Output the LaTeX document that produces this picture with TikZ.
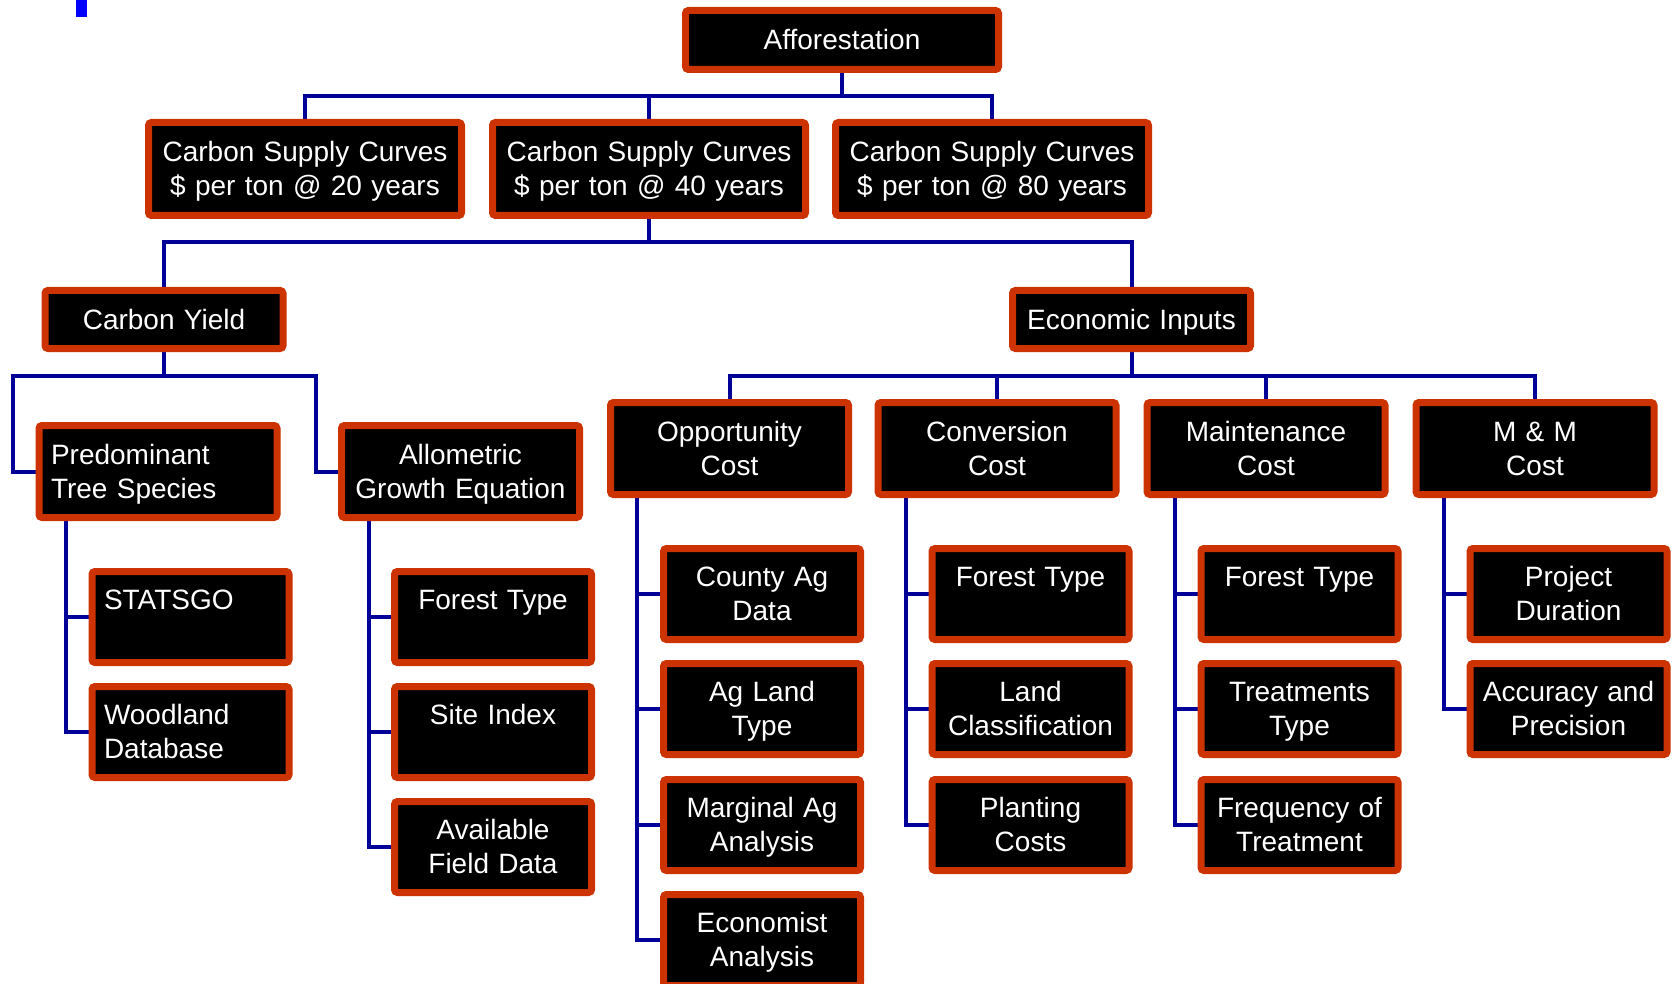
\documentclass[tikz,border=0pt]{standalone}
\usepackage{fontspec}
\setmainfont{Liberation Sans}
\usetikzlibrary{backgrounds}
\definecolor{brd}{RGB}{204,51,0}
\definecolor{navy}{RGB}{0,0,153}
\newcommand\mytopstrut{\rule{0pt}{29.8pt}}
\newcommand\mybotstrut{\rule[-10.2pt]{0pt}{10.2pt}}
\begin{document}
\begin{tikzpicture}[x=1pt,y=-1pt,
  box/.style={draw=brd, line width=7pt, fill=black, text=white, rounded corners=3pt,
    font=\fontsize{28}{34}\selectfont, align=center, inner ysep=0pt, inner xsep=12pt,
    execute at begin node=\mytopstrut, execute at end node=\mybotstrut},
  aftop/.style={box, text width=289pt, minimum height=59pt},
  top/.style={box, text width=289pt, minimum height=93pt},
  one/.style={box, text width=214pt, minimum height=58pt},
  mid/.style={box, text width=214pt, minimum height=92pt},
  midl/.style={mid, align=left},
  kid/.style={box, text width=173pt, minimum height=91pt},
  kidl/.style={kid, align=left},
  conn/.style={draw=navy, line width=4pt}]
\useasboundingbox (0,0) rectangle (1673,984);
\fill[blue] (76,0) rectangle (87,17);

\node[aftop] (aff) at (842,40) {Afforestation};
\node[top] (c20) at (305,169) {Carbon Supply Curves\\\$ per ton @ 20 years};
\node[top] (c40) at (649,169) {Carbon Supply Curves\\\$ per ton @ 40 years};
\node[top] (c80) at (992,169) {Carbon Supply Curves\\\$ per ton @ 80 years};
\node[one] (cy) at (164,319.5) {Carbon Yield};
\node[one] (ei) at (1131.5,319.5) {Economic Inputs};
\node[midl] (pts) at (158,471.5) {Predominant\\Tree Species};
\node[mid] (age) at (460.5,471.5) {Allometric\\Growth Equation};
\node[kidl] (statsgo) at (190.5,617) {STATSGO\\};
\node[kidl] (wood) at (190.5,732) {Woodland\\Database};
\node[kid] (ft1) at (493,617) {Forest Type\\};
\node[kid] (si) at (493,732) {Site Index\\};
\node[kid] (afd) at (493,847) {Available\\Field Data};
\node[mid] (opp) at (729.5,448.5) {Opportunity\\Cost};
\node[mid] (conv) at (997,448.5) {Conversion\\Cost};
\node[mid] (maint) at (1266,448.5) {Maintenance\\Cost};
\node[mid] (mm) at (1535,448.5) {M \& M\\Cost};
\node[kid] (cad) at (762,594) {County Ag\\Data};
\node[kid] (alt) at (762,709) {Ag Land\\Type};
\node[kid] (maa) at (762,825) {Marginal Ag\\Analysis};
\node[kid] (ea) at (762,940) {Economist\\Analysis};
\node[kid] (ft2) at (1030.5,594) {Forest Type\\};
\node[kid] (lc) at (1030.5,709) {Land\\Classification};
\node[kid] (pc) at (1030.5,825) {Planting\\Costs};
\node[kid] (ft3) at (1299.5,594) {Forest Type\\};
\node[kid] (tt) at (1299.5,709) {Treatments\\Type};
\node[kid] (fot) at (1299.5,825) {Frequency of\\Treatment};
\node[kid] (pd) at (1568.5,594) {Project\\Duration};
\node[kid] (aap) at (1568.5,709) {Accuracy and\\Precision};

\coordinate (b1) at (842,96);
\coordinate (b2) at (649,242);
\coordinate (b3l) at (13,376);
\coordinate (b3r) at (316,376);
\coordinate (b4) at (1131.5,376);
\coordinate (pv) at (66,500);
\coordinate (av) at (369,500);
\coordinate (ov) at (637,480);
\coordinate (cv) at (906,480);
\coordinate (mv) at (1175,480);
\coordinate (mmv) at (1444,480);

\begin{scope}[on background layer]
\fill[white] (0,0) rectangle (1673,984);
\draw[conn] (aff) -- (b1);
\draw[conn] (c20) |- (b1) -| (c80);
\draw[conn] (c40) -- (c40 |- b1);
\draw[conn] (c40) -- (b2);
\draw[conn] (cy) |- (b2) -| (ei);
\draw[conn] (cy) -- (cy |- b3l);
\draw[conn] (pts.west) -| (b3l) -- (b3r) |- (age.west);
\draw[conn] (ei) -- (ei |- b4);
\draw[conn] (opp) |- (b4) -| (mm);
\draw[conn] (conv) -- (conv |- b4);
\draw[conn] (maint) -- (maint |- b4);
\draw[conn] (pv) |- (wood);
\draw[conn] (pv |- statsgo) -- (statsgo);
\draw[conn] (av) |- (afd);
\draw[conn] (av |- ft1) -- (ft1);
\draw[conn] (av |- si) -- (si);
\draw[conn] (ov) |- (ea);
\draw[conn] (ov |- cad) -- (cad);
\draw[conn] (ov |- alt) -- (alt);
\draw[conn] (ov |- maa) -- (maa);
\draw[conn] (cv) |- (pc);
\draw[conn] (cv |- ft2) -- (ft2);
\draw[conn] (cv |- lc) -- (lc);
\draw[conn] (mv) |- (fot);
\draw[conn] (mv |- ft3) -- (ft3);
\draw[conn] (mv |- tt) -- (tt);
\draw[conn] (mmv) |- (aap);
\draw[conn] (mmv |- pd) -- (pd);
\end{scope}
\end{tikzpicture}
\end{document}
